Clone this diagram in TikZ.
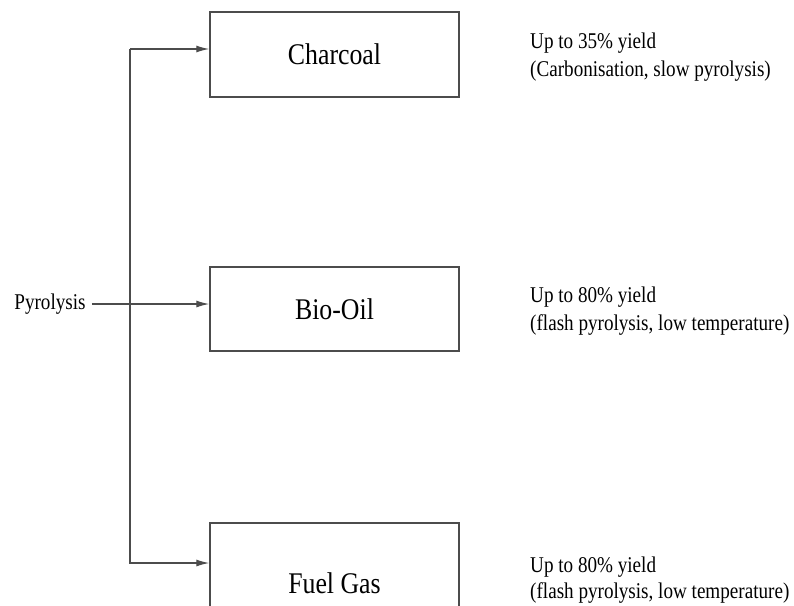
\documentclass[tikz,border=0pt]{standalone}
\usepackage{fontspec}
\setmainfont{Liberation Serif}
\newfontfamily\boxfont[FakeStretch=0.86]{Liberation Serif}
\newfontfamily\notefont[FakeStretch=0.85]{Liberation Serif}
\usetikzlibrary{arrows.meta}
\definecolor{linegray}{gray}{0.3}
\begin{document}
\begin{tikzpicture}[x=1pt,y=-1pt,
  prodbox/.style={draw=linegray, line width=1.4pt, rectangle, minimum width=249pt, inner sep=0pt,
    font=\boxfont\fontsize{30}{34}\selectfont, text=black},
  conn/.style={draw=linegray, line width=1.3pt},
  arr/.style={conn, -{Latex[length=13pt,width=7pt]}},
  note/.style={anchor=west, align=left, inner sep=0pt, text=black,
    font=\notefont\fontsize{22.5}{28}\selectfont},
  srcnode/.style={inner xsep=6pt, inner ysep=0pt, text=black,
    font=\notefont\fontsize{22.5}{26}\selectfont}]
\useasboundingbox (0,0) rectangle (794,605);
\clip (0,0) rectangle (794,605);
\fill[white] (0,0) rectangle (794,605);

\node[prodbox, minimum height=85pt] (charcoal) at (334.5,54.5) {Charcoal};
\node[prodbox, minimum height=84pt] (bio) at (334.5,309) {Bio-Oil};
\node[prodbox, minimum height=120pt] (fuel) at (334.5,583) {Fuel Gas};

\node[srcnode] (pyro) at (50,304) {Pyrolysis};

\coordinate (jt) at (130,49);
\coordinate (jb) at (130,563);

\draw[arr] (pyro.east) -- (pyro.east -| bio.west);
\draw[arr] (jt) -- ([yshift=5.5pt]charcoal.west);
\draw[arr] (jt) -- (jb) -- ([yshift=20pt]fuel.west);

\node[note] (n1) at (530,57) {Up to 35\% yield\\(Carbonisation, slow pyrolysis)};
\node[note] (n2) at (530,311) {Up to 80\% yield\\(flash pyrolysis, low temperature)};
\node[note, font=\notefont\fontsize{22.5}{26}\selectfont] (n3) at (530,580) {Up to 80\% yield\\(flash pyrolysis, low temperature)};
\end{tikzpicture}
\end{document}
